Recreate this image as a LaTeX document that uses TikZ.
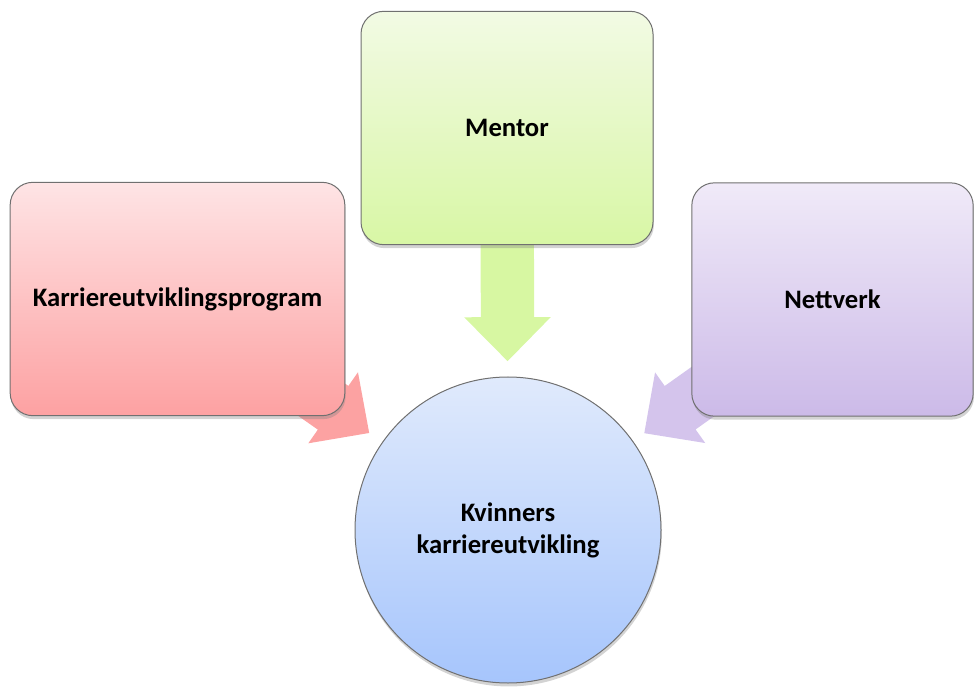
\documentclass[tikz,border=0pt]{standalone}
\usepackage{fontspec}
\setmainfont{Carlito}
\usetikzlibrary{calc,shadows,backgrounds}

\definecolor{redtop}{RGB}{254,228,229}
\definecolor{redbot}{RGB}{253,161,162}
\definecolor{redarr}{RGB}{252,162,162}
\definecolor{greentop}{RGB}{242,250,228}
\definecolor{greenbot}{RGB}{216,247,165}
\definecolor{greenarr}{RGB}{215,247,162}
\definecolor{purptop}{RGB}{240,234,248}
\definecolor{purpbot}{RGB}{204,186,232}
\definecolor{purparr}{RGB}{212,196,236}
\definecolor{bluetop}{RGB}{224,234,252}
\definecolor{bluebot}{RGB}{166,197,252}
\definecolor{rim}{RGB}{112,112,112}

\tikzset{
  box/.style={draw=rim, line width=0.75pt, rounded corners=17pt,
    minimum height=175pt, align=center,
    font=\bfseries\fontsize{20}{24}\selectfont,
    drop shadow={shadow xshift=0.6pt, shadow yshift=-2.6pt, opacity=0.35}},
  goal/.style={box, circle, rounded corners=0pt, minimum size=229.5pt, inner sep=0pt}
}

\begin{document}
\begin{tikzpicture}[x=0.75pt, y=0.75pt]
      \useasboundingbox (0,0) rectangle (974,686);

      % boxes
      \node [box, name=mentor, minimum width=219pt, top color=greentop, bottom color=greenbot]
      at (507,558) {Mentor};
      \node [box, name=program, minimum width=251pt, top color=redtop, bottom color=redbot]
      at (177.5,387) {Karriereutviklingsprogram};
      \node [box, name=nett, minimum width=211pt, top color=purptop, bottom color=purpbot]
      at (832.5,386.5) {Nettverk};

      % circle
      \node [goal, name=kvinner, top color=bluetop, bottom color=bluebot]
      at (508,156) {Kvinners\\karriereutvikling};

      \begin{pgfonlayer}{background}
      % arrow 1: program
      \coordinate (pt) at ($(program.center)!0.58!(kvinner.center)$);
      \coordinate (ph) at ($(pt)!33pt!(program.center)$);
      \fill [redarr] ($(program.center)!20pt!90:(pt)$) -- ($(ph)!20pt!-90:(program.center)$)
      -- ($(ph)!32.5pt!-90:(program.center)$) -- (pt) -- ($(ph)!32.5pt!90:(program.center)$)
      -- ($(ph)!20pt!90:(program.center)$) -- ($(program.center)!20pt!-90:(pt)$) -- cycle;

      % arrow 2: mentor
      \coordinate (mt) at ($(mentor.center)!0.58!(kvinner.center)$);
      \coordinate (mh) at ($(mt)!33pt!(mentor.center)$);
      \fill [greenarr] ($(mentor.center)!20pt!90:(mt)$) -- ($(mh)!20pt!-90:(mentor.center)$)
      -- ($(mh)!32.5pt!-90:(mentor.center)$) -- (mt) -- ($(mh)!32.5pt!90:(mentor.center)$)
      -- ($(mh)!20pt!90:(mentor.center)$) -- ($(mentor.center)!20pt!-90:(mt)$) -- cycle;

      % arrow 3: nettverk
      \coordinate (nt) at ($(nett.center)!0.58!(kvinner.center)$);
      \coordinate (nh) at ($(nt)!33pt!(nett.center)$);
      \fill [purparr] ($(nett.center)!20pt!90:(nt)$) -- ($(nh)!20pt!-90:(nett.center)$)
      -- ($(nh)!32.5pt!-90:(nett.center)$) -- (nt) -- ($(nh)!32.5pt!90:(nett.center)$)
      -- ($(nh)!20pt!90:(nett.center)$) -- ($(nett.center)!20pt!-90:(nt)$) -- cycle;
      \end{pgfonlayer}
\end{tikzpicture}
\end{document}
